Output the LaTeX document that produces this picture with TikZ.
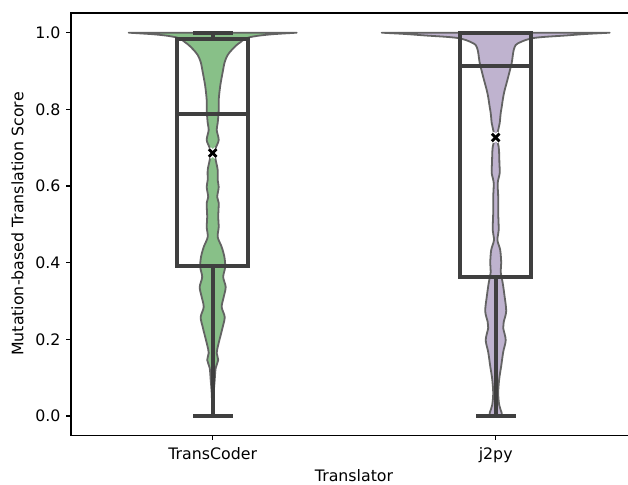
\documentclass[tikz,border=0pt]{standalone}
\usepackage{fontspec}
\setmainfont{DejaVu Sans}
\definecolor{vgreen}{HTML}{88C088}
\definecolor{vpurple}{HTML}{BFB3CF}
\definecolor{vedge}{HTML}{636363}
\definecolor{boxc}{HTML}{3F3F3F}
\tikzset{
  violinedge/.style={draw=vedge, line width=1.8pt, line join=round},
  boxline/.style={draw=boxc, line width=4.3pt, line cap=rect, line join=miter},
  spine/.style={draw=black, line width=1.1pt},
  tickline/.style={draw=black, line width=1.1pt},
  ticklab/.style={font=\fontsize{15.8}{18}\selectfont, inner sep=0pt, text=black},
  meanwhite/.style={draw=white, line width=5.4pt},
  meanblack/.style={draw=black, line width=2.8pt},
}
\def\tcR{(-0.5,32.7) -- (84,32.7) -- plot[smooth,tension=0.5] coordinates {(84,32.7) (60,34.2) (45,35.8) (36,37.5) (31,39.5) (28,42) (24,45) (19,50) (15,55) (12,62) (10,72) (7.5,86) (6,100) (6,110) (5,123) (4,130) (6,140) (3,148) (2,153) (3,160) (5,170) (5,180) (6,187) (4.5,197) (6,203) (5.5,217) (6,227) (5,237) (9,247) (11.7,257) (12.5,267) (10.5,277) (13,287) (11,297) (9,307) (12,317) (10,327) (7.5,337) (5.5,345) (4,353) (5.5,360) (3,368) (2,380) (1,393) (0.6,405) (0.3,416)} -- (-0.5,416)}
\def\jpR{(-0.5,32.7) -- (114,32.7) -- plot[smooth,tension=0.5] coordinates {(114,32.7) (90,34) (70,35.5) (50,36.8) (38,38) (30,40) (24,42.5) (20,45) (18,50) (17,56) (16,63) (14,71) (11.7,80) (9,90) (7.5,97) (6,107) (5,113) (4.5,118) (4,123) (2.5,130) (1,138) (3,147) (3.5,155) (3.7,163) (4,173) (2,183) (2.5,197) (2.5,213) (3,230) (1.7,240) (4.5,250) (5.5,263) (5,272) (7,283) (8.7,295) (10.5,311) (8,322) (7.5,328) (10,340) (7.5,352) (5.5,366) (3.5,379) (2.5,393) (3.5,405) (6,413) (6,416)} -- (-0.5,416)}
\begin{document}
\begin{tikzpicture}[x=1pt,y=-1pt]
\useasboundingbox (0,0) rectangle (628,484);
% violins
\begin{scope}[shift={(212.7,0)}]
  \fill[vgreen] \tcR -- cycle;
  \begin{scope}[xscale=-1]\fill[vgreen] \tcR -- cycle;\end{scope}
  \draw[violinedge] \tcR;
  \begin{scope}[xscale=-1]\draw[violinedge] \tcR;\end{scope}
\end{scope}
\begin{scope}[shift={(495.7,0)}]
  \fill[vpurple] \jpR -- cycle;
  \begin{scope}[xscale=-1]\fill[vpurple] \jpR -- cycle;\end{scope}
  \draw[violinedge] \jpR;
  \begin{scope}[xscale=-1]\draw[violinedge] \jpR;\end{scope}
\end{scope}
% boxes TransCoder
\draw[boxline] (177.3,39.3) rectangle (248.1,266);
\draw[boxline] (177.3,114.3) -- (248.1,114.3);
\draw[boxline] (212.7,39.3) -- (212.7,32.7);
\draw[boxline] (212.7,266) -- (212.7,416);
\draw[boxline] (195,32.7) -- (230.4,32.7);
\draw[boxline] (195,416) -- (230.4,416);
% boxes j2py
\draw[boxline] (460.3,32.7) rectangle (531.1,276.7);
\draw[boxline] (460.3,66) -- (531.1,66);
\draw[boxline] (495.7,276.7) -- (495.7,416);
\draw[boxline] (478,416) -- (513.4,416);
\draw[boxline] (478,32.7) -- (513.4,32.7);
% means
\foreach \mx/\my [count=\k] in {212.7/153, 495.7/137.5}{
  \coordinate (mean\k) at (\mx,\my);
  \draw[meanwhite] ([shift={(-3.8,-3.8)}]mean\k) -- ([shift={(3.8,3.8)}]mean\k);
  \draw[meanwhite] ([shift={(-3.8,3.8)}]mean\k) -- ([shift={(3.8,-3.8)}]mean\k);
  \draw[meanblack] ([shift={(-3.8,-3.8)}]mean\k) -- ([shift={(3.8,3.8)}]mean\k);
  \draw[meanblack] ([shift={(-3.8,3.8)}]mean\k) -- ([shift={(3.8,-3.8)}]mean\k);
}
% spines
\draw[spine] (630,13) -- (71,13) -- (71,435.3) -- (630,435.3);
% y ticks
\foreach \v/\yy [count=\i] in {0.0/416,0.2/339.34,0.4/262.68,0.6/186.02,0.8/109.36,1.0/32.7}{
  \draw[tickline] (71,\yy) -- (66.1,\yy);
  \node[ticklab, anchor=base east] (ytl\i) at (60.7,\yy+5.7) {\v};
}
% x ticks
\draw[tickline] (212.7,435.3) -- (212.7,440.2);
\draw[tickline] (495.7,435.3) -- (495.7,440.2);
\node[ticklab, anchor=base] (xtl1) at (212.7,459.5) {TransCoder};
\node[ticklab, anchor=base] (xtl2) at (495.7,459.5) {j2py};
% axis labels
\node[ticklab, anchor=base] (xlab) at (354,481) {Translator};
\node[ticklab, anchor=base, rotate=90] (ylab) at (23.3,224) {Mutation-based Translation Score};
\end{tikzpicture}
\end{document}
